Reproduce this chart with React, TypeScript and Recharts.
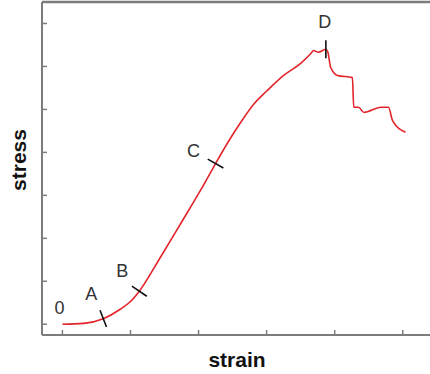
import { LineChart, Line, XAxis, YAxis, ReferenceLine } from "recharts";

const strain = [
  0, 0.31, 0.6, 0.85, 1.0, 1.13, 1.44, 1.74, 2.03, 2.25, 2.43, 2.62, 2.81, 3.01,
  3.25, 3.5, 3.65, 3.69, 3.76, 3.87, 3.9, 3.94, 4.04, 4.26, 4.28, 4.35, 4.43,
  4.68, 4.79, 4.85, 5.04,
];
const stress = [
  0, 0.02, 0.13, 0.35, 0.53, 0.77, 1.56, 2.35, 3.12, 3.74, 4.23, 4.7, 5.12,
  5.44, 5.79, 6.07, 6.3, 6.37, 6.33, 6.4, 6.33, 5.98, 5.79, 5.74, 5.05, 5.05,
  4.93, 5.05, 5.05, 4.74, 4.47,
];

const markerNames = ["0", "A", "B", "C", "D"];
const markerStrain = [0, 0.6, 1.13, 2.25, 3.87];

const xTicks = [0, 1, 2, 3, 4, 5];
const yTicks = [0, 1, 2, 3, 4, 5, 6, 7];

const X_DOMAIN: [number, number] = [-0.3, 5.4];
const Y_DOMAIN: [number, number] = [-0.25, 7.5];

const W = 430;
const H = 374;
const LEFT = 42;
const TOP = 2;
const BOTTOM = 39;

const AXIS = "#7c7c7c";
const RED = "#e3242b";
const INK = "#333333";
const FONT = "'Liberation Sans', Arial, sans-serif";

// text offset from the marked point, in px
const labelOffset: Record<string, [number, number]> = {
  "0": [-3, -16],
  A: [-12, -25],
  B: [-17, -20],
  C: [-22, -13],
  D: [-1, -27],
};

const data = strain.map((x, i) => {
  const m = markerStrain.indexOf(x);
  return { x, y: stress[i], mark: m >= 0 ? markerNames[m] : null };
});

const pxPerX = (W - LEFT) / (X_DOMAIN[1] - X_DOMAIN[0]);
const pxPerY = (H - BOTTOM - TOP) / (Y_DOMAIN[1] - Y_DOMAIN[0]);

const MarkerDot = (props: any) => {
  const { cx, cy, index, payload } = props;
  if (!payload || !payload.mark) return <g key={`d-${index}`} />;
  const name = payload.mark;
  const prev = data[Math.max(0, index - 1)];
  const next = data[Math.min(data.length - 1, index + 1)];
  const dx = (next.x - prev.x) * pxPerX;
  const dy = -(next.y - prev.y) * pxPerY;
  const len = Math.hypot(dx, dy) || 1;
  // perpendicular unit vector
  const nx = -dy / len;
  const ny = dx / len;
  const half = 9;
  const [ox, oy] = labelOffset[name];
  return (
    <g key={`d-${index}`}>
      {name !== "0" && (
        <line
          x1={cx - nx * half}
          y1={cy - ny * half}
          x2={cx + nx * half}
          y2={cy + ny * half}
          stroke="#111"
          strokeWidth={1.6}
        />
      )}
      <text
        x={cx + ox}
        y={cy + oy}
        textAnchor="middle"
        dominantBaseline="central"
        fontSize={18}
        fontFamily={FONT}
        fill={INK}
      >
        {name}
      </text>
    </g>
  );
};

const titleStyle = {
  fontSize: 21,
  fontWeight: "bold" as const,
  fontFamily: FONT,
  fill: "#111",
};

export default function App() {
  return (
    <div style={{ position: "absolute", left: 0, top: 0, background: "#fff" }}>
      <svg
        width={W}
        height={H}
        style={{ position: "absolute", left: 0, top: 0, pointerEvents: "none" }}
      >
        <text
          x={18}
          y={160}
          transform="rotate(-90 18 160)"
          textAnchor="middle"
          dominantBaseline="central"
          style={titleStyle}
        >
          stress
        </text>
        <text x={237} y={367} textAnchor="middle" style={titleStyle}>
          strain
        </text>
      </svg>
      <LineChart
        width={W}
        height={H}
        data={data}
        margin={{ top: TOP, right: 0, bottom: BOTTOM, left: LEFT }}
      >
        <XAxis
          type="number"
          dataKey="x"
          domain={X_DOMAIN}
          ticks={xTicks}
          height={BOTTOM}
          mirror
          tickSize={5}
          tickFormatter={() => ""}
          tickLine={{ stroke: AXIS, strokeWidth: 1.5 }}
          axisLine={{ stroke: AXIS, strokeWidth: 2 }}
        />
        <YAxis
          type="number"
          domain={Y_DOMAIN}
          ticks={yTicks}
          width={LEFT}
          mirror
          tickSize={5}
          tickFormatter={() => ""}
          tickLine={{ stroke: AXIS, strokeWidth: 1.5 }}
          axisLine={{ stroke: AXIS, strokeWidth: 2 }}
        />
        <ReferenceLine
          y={Y_DOMAIN[1]}
          stroke={AXIS}
          strokeWidth={2.5}
        />
        <Line
          type="monotone"
          dataKey="y"
          stroke={RED}
          strokeWidth={1.6}
          dot={MarkerDot}
          activeDot={false}
          isAnimationActive={false}
        />
      </LineChart>
    </div>
  );
}
